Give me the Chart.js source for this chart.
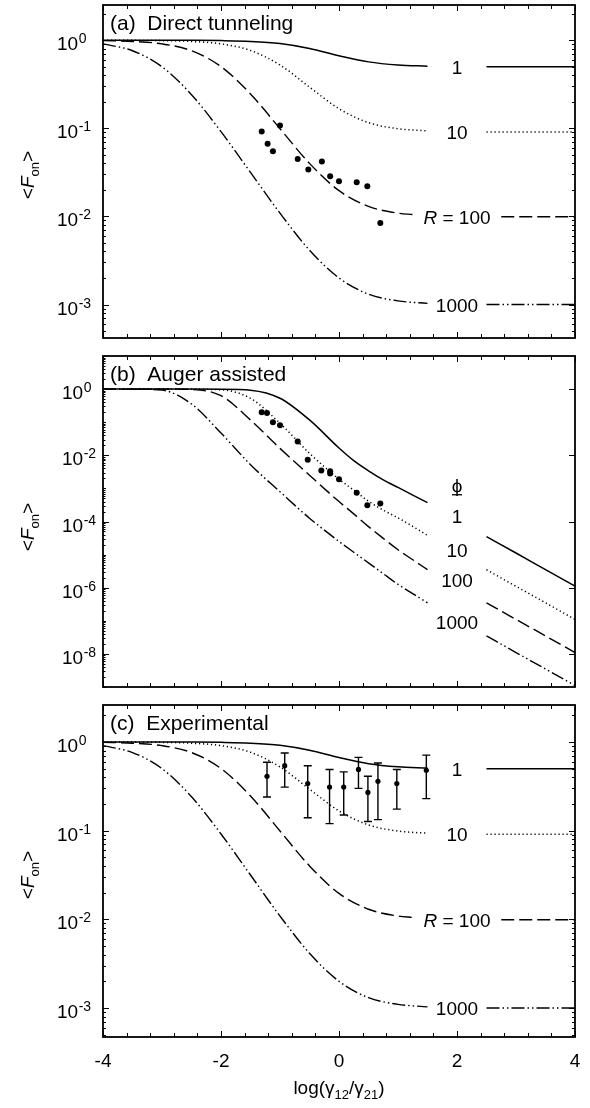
<!DOCTYPE html>
<html>
<head>
<meta charset="utf-8">
<script src="https://cdn.jsdelivr.net/npm/chart.js@4.4.1/dist/chart.umd.min.js"></script>
<style>
  body { margin: 0; background: #fff; }
  .wrap { position: relative; width: 590px; height: 1108px; background: #fff; }
  canvas { position: absolute; left: 0; }
</style>
</head>
<body>
<div class="wrap">
  <canvas id="chartA" width="590" height="345" style="top:0px"></canvas>
  <canvas id="chartB" width="590" height="350" style="top:345px"></canvas>
  <canvas id="chartC" width="590" height="413" style="top:695px"></canvas>
</div>
<script>
const FONT = '"Liberation Sans", Arial, sans-serif';

// x samples of the theory curves (left of the labels / right of the labels)
const xLeft = [-4, -3.5, -3, -2.5, -2, -1.5, -1, -0.5, 0, 0.5, 1, 1.5];
const xLeft100 = [-4, -3.5, -3, -2.5, -2, -1.5, -1, -0.5, 0, 0.5, 1, 1.25];
const xLeftB = [-4, -3.5, -3, -2.5, -2, -1.5, -1, -0.5, 0, 0.25, 0.5, 0.75, 1, 1.25, 1.5];
const xRight = [2.5, 3, 3.5, 4];
const xRight100 = [2.75, 3, 3.5, 4];

// direct tunneling curves, R = 1, 10, 100, 1000 (used in (a) and (c))
const r1Left = [1.0, 1.0, 0.999, 0.997, 0.99, 0.97, 0.917, 0.806, 0.667, 0.568, 0.524, 0.508];
const r1Right = [0.5, 0.5, 0.5, 0.5];
const r10Left = [0.999, 0.997, 0.99, 0.969, 0.91, 0.765, 0.524, 0.294, 0.167, 0.116, 0.099, 0.0935];
const r10Right = [0.091, 0.091, 0.091, 0.091];
const r100Left = [0.99, 0.969, 0.909, 0.76, 0.502, 0.246, 0.0991, 0.04, 0.0196, 0.013, 0.0109, 0.0105];
const r100Right = [0.0099, 0.0099, 0.0099, 0.0099];
const r1000Left = [0.909, 0.76, 0.5, 0.241, 0.0917, 0.0316, 0.01088, 0.00414, 0.002, 0.00131, 0.0011, 0.00103];
const r1000Right = [0.001, 0.001, 0.001, 0.001];

// Auger assisted curves, phi = 1, 10, 100, 1000 (panel b)
const p1Left = [1, 1, 1, 1, 0.995, 0.93, 0.53, 0.117, 0.0166, 0.0069, 0.0034, 0.00182, 0.00107, 6.3e-4, 3.7e-4];
const p1Right = [3.5e-5, 1.12e-5, 3.5e-6, 1.12e-6];
const p10Left = [1, 1, 1, 0.99, 0.955, 0.525, 0.093, 0.0115, 0.0019, 8.9e-4, 4.1e-4, 2.2e-4, 1.29e-4, 7.1e-5, 3.8e-5];
const p10Right = [3.5e-6, 1.1e-6, 3.5e-7, 1.1e-7];
const p100Left = [1, 1, 0.998, 0.97, 0.63, 0.117, 0.0162, 0.0025, 4e-4, 1.7e-4, 7e-5, 3.1e-5, 1.4e-5, 7e-6, 3.5e-6];
const p100Right = [3.5e-7, 1.1e-7, 3.5e-8, 1.1e-8];
const p1000Left = [1, 0.995, 0.93, 0.355, 0.047, 0.0052, 7.9e-4, 1.26e-4, 2.5e-5, 1.18e-5, 5.6e-6, 2.65e-6, 1.26e-6, 6.6e-7, 3.5e-7];
const p1000Right = [3.5e-8, 1.1e-8, 3.5e-9, 1.1e-9];

// measured points
const dotsAX = [-1.31, -1.21, -1.12, -1.0, -0.7, -0.52, -0.29, -0.15, 0.0, 0.3, 0.48, 0.7];
const dotsAY = [0.092, 0.067, 0.055, 0.108, 0.045, 0.034, 0.042, 0.0285, 0.025, 0.0245, 0.022, 0.0084];
const dotsBX = [-1.31, -1.22, -1.12, -1.0, -0.7, -0.53, -0.3, -0.15, -0.15, 0.0, 0.3, 0.48, 0.7];
const dotsBY = [0.2, 0.19, 0.1, 0.081, 0.026, 0.0074, 0.0035, 0.0033, 0.0028, 0.0019, 7.4e-4, 3.1e-4, 3.5e-4];
const expX = [-1.22, -0.92, -0.53, -0.16, 0.08, 0.33, 0.49, 0.66, 0.98, 1.48];
const expY = [0.41, 0.54, 0.34, 0.31, 0.31, 0.49, 0.27, 0.36, 0.34, 0.48];
const expHi = [0.59, 0.75, 0.54, 0.49, 0.46, 0.67, 0.41, 0.58, 0.49, 0.71];
const expLo = [0.24, 0.31, 0.14, 0.12, 0.15, 0.3, 0.127, 0.133, 0.175, 0.23];

const xTickLabels = ['-4', '-2', '0', '2', '4'];
const xTickValues = [-4, -2, 0, 2, 4];

const big = `19px ${FONT}`;
const ital = `italic 19px ${FONT}`;
const sub = `13px ${FONT}`;

const pts = (xs, ys) => xs.map((x, i) => ({ x: x, y: ys[i] }));
const split = (xl, yl, xr, yr) => [...pts(xl, yl), { x: 2, y: null }, ...pts(xr, yr)];

const curve = (data, dash, width) => ({
    data: data,
    borderColor: '#000',
    borderWidth: width || 1.4,
    borderDash: dash,
    pointRadius: 0,
    fill: false,
    spanGaps: false,
    cubicInterpolationMode: 'monotone'
});
const dots = (xs, ys, r) => ({
    data: pts(xs, ys),
    showLine: false,
    pointRadius: r,
    pointBackgroundColor: '#000',
    pointBorderWidth: 0
});

const SOLID = [];
const DOT = [1.2, 2.8];
const DASH = [13, 5];
const DASHDOT = [13, 3, 1.5, 3, 1.5, 3];

// draws a list of text runs, left aligned or centred on x
function runs(ctx, parts, x, y, align) {
    let total = 0;
    parts.forEach(p => { ctx.font = p.font; p.w = ctx.measureText(p.t).width; total += p.w; });
    let cx = align === 'center' ? x - total / 2 : x;
    ctx.textAlign = 'left';
    ctx.textBaseline = 'alphabetic';
    parts.forEach(p => { ctx.font = p.font; ctx.fillText(p.t, cx, y + (p.dy || 0)); cx += p.w; });
}

const decor = {
    id: 'decor',
    afterDatasetsDraw(chart, args, o) {
        if (!o.errors) return;
        const { ctx, scales: { x, y } } = chart;
        ctx.save();
        ctx.strokeStyle = '#000';
        ctx.lineWidth = 1.4;
        o.errors.x.forEach((v, i) => {
            const px = x.getPixelForValue(v);
            const top = y.getPixelForValue(o.errors.hi[i]);
            const bot = y.getPixelForValue(o.errors.lo[i]);
            ctx.beginPath();
            ctx.moveTo(px, top); ctx.lineTo(px, bot);
            ctx.moveTo(px - 4, top); ctx.lineTo(px + 4, top);
            ctx.moveTo(px - 4, bot); ctx.lineTo(px + 4, bot);
            ctx.stroke();
        });
        ctx.restore();
    },
    afterDraw(chart, args, o) {
        const { ctx, chartArea: a, scales: { x, y } } = chart;
        ctx.save();
        ctx.fillStyle = '#000';
        ctx.strokeStyle = '#000';

        // x ticks, top and bottom, every 0.4
        ctx.lineWidth = 1;
        ctx.beginPath();
        for (let i = 0; i <= 20; i++) {
            const v = -4 + i * 0.4;
            const px = Math.round(x.getPixelForValue(v)) + 0.5;
            const len = (i % 5 === 0) ? 6 : 4;
            ctx.moveTo(px, a.bottom); ctx.lineTo(px, a.bottom - len);
            ctx.moveTo(px, a.top); ctx.lineTo(px, a.top + len);
        }
        // y ticks (log)
        const d0 = Math.floor(Math.log10(y.min)), d1 = Math.ceil(Math.log10(y.max));
        for (let d = d0; d <= d1; d++) {
            for (let m = 1; m <= 9; m++) {
                const v = m * Math.pow(10, d);
                if (v < y.min || v > y.max) continue;
                const py = Math.round(y.getPixelForValue(v)) + 0.5;
                const major = m === 1 && (d % o.majorEvery === 0);
                if (major) {
                    ctx.moveTo(a.left, py); ctx.lineTo(a.left + 6, py);
                    ctx.moveTo(a.right, py); ctx.lineTo(a.right - 6, py);
                } else if (o.minorRight || m === 1) {
                    ctx.moveTo(a.left, py); ctx.lineTo(a.left + 3, py);
                    if (o.minorRight) { ctx.moveTo(a.right, py); ctx.lineTo(a.right - 3, py); }
                } else {
                    ctx.moveTo(a.left, py); ctx.lineTo(a.left + 2.5, py);
                }
            }
        }
        ctx.stroke();

        // frame
        ctx.lineWidth = 1.8;
        ctx.strokeRect(a.left, a.top, a.right - a.left, a.bottom - a.top);

        // y tick labels 10^n
        o.powers.forEach(n => {
            const py = y.getPixelForValue(Math.pow(10, n));
            ctx.font = big;
            ctx.textAlign = 'left';
            ctx.textBaseline = 'alphabetic';
            ctx.fillText('10', o.labelLeft, py + 10);
            const w = ctx.measureText('10').width;
            ctx.font = `14px ${FONT}`;
            ctx.fillText(String(n), o.labelLeft + w + 0.5, py + 3);
        });

        // panel title
        runs(ctx, [{ t: o.title, font: `21px ${FONT}` }], a.left + 7, a.top + 25, 'left');

        // curve labels
        o.curveLabels.forEach(l => {
            runs(ctx, l.parts, x.getPixelForValue(l.x), y.getPixelForValue(l.y) + 7, 'center');
        });
        if (o.phi) {
            const px = x.getPixelForValue(o.phi.x);
            const py = y.getPixelForValue(o.phi.y);
            runs(ctx, [{ t: '\u03D5', font: big }], px, py + 7, 'center');
            ctx.lineWidth = 1.3;
            ctx.beginPath();
            ctx.moveTo(px - 5, py + 10); ctx.lineTo(px + 5, py + 10);
            ctx.stroke();
        }

        // y axis title <F_on>
        ctx.save();
        ctx.translate(o.yTitleX, o.yTitleY);
        ctx.rotate(-Math.PI / 2);
        runs(ctx, [
            { t: '<', font: big },
            { t: 'F', font: ital },
            { t: 'on', font: sub, dy: 5 },
            { t: '>', font: big }
        ], 0, 7, 'center');
        ctx.restore();

        // x axis labels and title (bottom panel only)
        if (o.xAxis) {
            xTickValues.forEach((v, i) => {
                runs(ctx, [{ t: xTickLabels[i], font: big }], x.getPixelForValue(v), a.bottom + 30, 'center');
            });
            runs(ctx, [
                { t: 'log(\u03B3', font: big },
                { t: '12', font: sub, dy: 5 },
                { t: '/\u03B3', font: big },
                { t: '21', font: sub, dy: 5 },
                { t: ')', font: big }
            ], x.getPixelForValue(0), a.bottom + 57, 'center');
        }
        ctx.restore();
    }
};

function makeChart(id, datasets, yMin, yMax, pad, decorOpts) {
    return new Chart(document.getElementById(id), {
        type: 'line',
        data: { datasets: datasets },
        options: {
            responsive: false,
            animation: false,
            devicePixelRatio: 1,
            layout: { padding: pad },
            plugins: { legend: { display: false }, tooltip: { enabled: false }, decor: decorOpts },
            scales: {
                x: { type: 'linear', min: -4, max: 4, display: false },
                y: { type: 'logarithmic', min: yMin, max: yMax, display: false }
            }
        },
        plugins: [decor]
    });
}

const rLabels = (v1, v10, v100, v1000) => [
    { parts: [{ t: '1', font: big }], x: 2, y: v1 },
    { parts: [{ t: '10', font: big }], x: 2, y: v10 },
    { parts: [{ t: 'R', font: ital }, { t: ' = 100', font: big }], x: 2, y: v100 },
    { parts: [{ t: '1000', font: big }], x: 2, y: v1000 }
];

const theory = () => [
    curve(split(xLeft, r1Left, xRight, r1Right), SOLID, 1.5),
    curve(split(xLeft, r10Left, xRight, r10Right), DOT, 1.5),
    curve(split(xLeft100, r100Left, xRight100, r100Right), DASH, 1.4),
    curve(split(xLeft, r1000Left, xRight, r1000Right), DASHDOT, 1.4)
];

// (a) Direct tunneling
makeChart('chartA',
    [...theory(), dots(dotsAX, dotsAY, 3)],
    Math.pow(10, -3.38), Math.pow(10, 0.4),
    { left: 103, right: 15, top: 5, bottom: 7 },
    {
        title: '(a)  Direct tunneling',
        powers: [0, -1, -2, -3], majorEvery: 1, minorRight: true, labelLeft: 57,
        curveLabels: rLabels(0.5, 0.091, 0.0099, 0.001),
        yTitleX: 27, yTitleY: 175
    });

// (b) Auger assisted
makeChart('chartB',
    [
        curve(split(xLeftB, p1Left, xRight, p1Right), SOLID, 1.5),
        curve(split(xLeftB, p10Left, xRight, p10Right), DOT, 1.5),
        curve(split(xLeftB, p100Left, xRight, p100Right), DASH, 1.4),
        curve(split(xLeftB, p1000Left, xRight, p1000Right), DASHDOT, 1.4),
        dots(dotsBX, dotsBY, 3)
    ],
    1e-9, 1e1,
    { left: 103, right: 15, top: 11, bottom: 8 },
    {
        title: '(b)  Auger assisted',
        powers: [0, -2, -4, -6, -8], majorEvery: 2, minorRight: false, labelLeft: 62,
        curveLabels: [
            { parts: [{ t: '1', font: big }], x: 2, y: 1.48e-4 },
            { parts: [{ t: '10', font: big }], x: 2, y: 1.41e-5 },
            { parts: [{ t: '100', font: big }], x: 2, y: 1.66e-6 },
            { parts: [{ t: '1000', font: big }], x: 2, y: 8.9e-8 }
        ],
        phi: { x: 2, y: 1.29e-3 },
        yTitleX: 27, yTitleY: 182
    });

// (c) Experimental
makeChart('chartC',
    [...theory(), dots(expX, expY, 2.6)],
    Math.pow(10, -3.327), Math.pow(10, 0.417),
    { left: 103, right: 15, top: 10, bottom: 71 },
    {
        title: '(c)  Experimental',
        powers: [0, -1, -2, -3], majorEvery: 1, minorRight: true, labelLeft: 57,
        curveLabels: rLabels(0.5, 0.091, 0.0099, 0.001),
        errors: { x: expX, lo: expLo, hi: expHi },
        yTitleX: 27, yTitleY: 180,
        xAxis: true
    });
</script>
</body>
</html>
